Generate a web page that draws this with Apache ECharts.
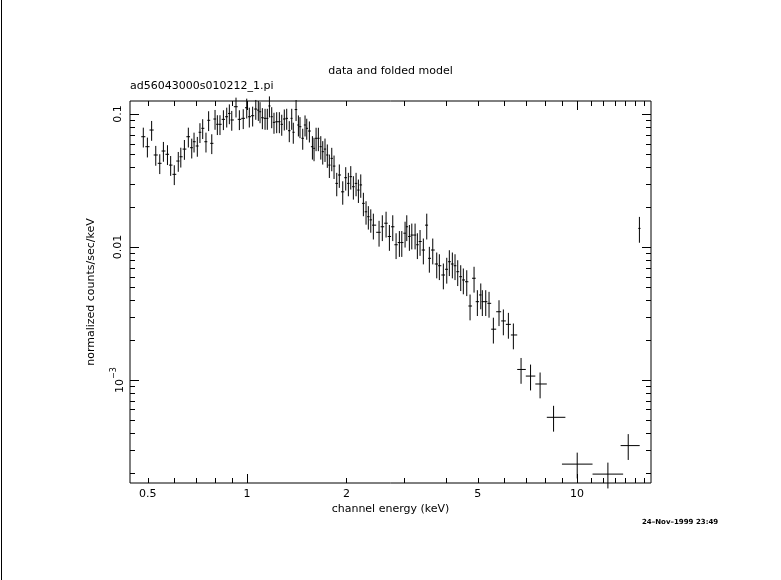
<!DOCTYPE html>
<html><head><meta charset="utf-8">
<script src="https://cdn.jsdelivr.net/npm/echarts@6/dist/echarts.min.js"></script>
<style>html,body{margin:0;padding:0;background:#fff}#c{width:781px;height:580px}</style>
</head><body><div id="c"></div>
<script>
// energies (keV)
var energy = [0.485,0.499,0.514,0.529,0.544,0.558,0.574,0.587,0.602,0.619,0.630,0.646,0.664,0.680,0.691,0.707,0.720,0.734,0.751,0.765,0.782,0.800,0.813,0.828,0.848,0.868,0.884,0.899,0.926,0.948,0.974,0.998,1.016,1.040,1.063,1.082,
1.095,1.113,1.134,1.152,1.169,1.188,1.207,1.230,1.253,1.274,1.297,1.319,1.343,1.366,1.381,1.408,1.431,1.447,1.475,1.499,1.517,1.545,1.578,1.596,1.619,1.645,1.673,1.696,1.723,1.751,1.776,1.806,1.835,1.870,1.904,1.950,1.991,2.028,2.062,2.100,2.140,2.175,2.211,2.252,2.294,2.331,2.371,
2.414,2.512,2.570,2.638,2.700,2.764,2.829,2.895,2.944,3.012,3.048,3.104,3.157,3.230,3.282,3.344,3.422,3.504,3.568,3.654,3.757,3.826,3.934,4.029,4.102,4.189,4.268,4.349,4.441,4.523,4.632,4.740,4.874,4.988,5.108,5.164,5.288,5.411,5.577,5.801,5.979,6.193,6.412,6.765,7.229,7.726,8.488,10.01,12.40,14.29,15.45];
// normalized counts/sec/keV
var counts = [0.0675,0.0568,0.0758,0.0492,0.0426,0.0527,0.0498,0.0413,0.0352,0.0443,0.0477,0.0545,0.0675,0.0558,0.0619,0.0575,0.0729,0.0781,0.0619,0.0897,0.0602,0.0917,0.0837,0.0837,0.0912,0.0954,0.101,0.0902,0.1135,0.0912,0.0928,0.1115,0.0954,0.0971,0.109,0.107,
0.104,0.0938,0.0928,0.0928,0.115,0.0954,0.0866,0.0875,0.0875,0.0837,0.0917,0.0928,0.0749,0.0928,0.0729,0.108,0.0827,0.0803,0.0657,0.0827,0.0781,0.0745,0.0568,0.0552,0.0657,0.0657,0.0568,0.0521,0.0545,0.0492,0.0413,0.0464,0.0406,0.0301,0.0348,0.0260,0.0332,0.0301,0.0338,0.0284,0.0301,0.0268,0.0293,0.0213,0.0184,0.0169,0.0160,
0.0146,0.0129,0.0142,0.0151,0.0120,0.0142,0.0104,0.0108,0.0108,0.0127,0.0142,0.0120,0.0123,0.0123,0.0104,0.0110,0.00949,0.0146,0.00822,0.00949,0.00745,0.00723,0.00616,0.00680,0.00775,0.00745,0.00723,0.00652,0.00598,0.00565,0.00548,0.00360,0.00582,0.00388,0.00436,0.00388,0.00388,0.00377,0.00241,0.00326,0.00278,0.00262,0.00218,0.00120,0.00107,0.000933,0.000524,0.000233,0.000196,0.000321,0.0138];
// relative y errors
var relErr = [0.17,0.17,0.17,0.17,0.17,0.17,0.17,0.17,0.17,0.17,0.17,0.17,0.17,0.17,0.17,0.17,0.17,0.17,0.17,0.17,0.17,0.17,0.17,0.17,0.17,0.17,0.17,0.17,0.17,0.17,0.17,0.17,0.17,0.17,0.17,0.17,
0.18,0.18,0.18,0.18,0.18,0.18,0.18,0.18,0.18,0.18,0.18,0.18,0.18,0.18,0.18,0.18,0.18,0.18,0.18,0.18,0.18,0.18,0.2,0.2,0.2,0.2,0.2,0.2,0.2,0.2,0.2,0.2,0.2,0.2,0.2,0.2,0.2,0.2,0.2,0.2,0.2,0.2,0.2,0.2,0.2,0.2,0.2,
0.22,0.22,0.22,0.22,0.22,0.22,0.22,0.22,0.22,0.22,0.22,0.22,0.22,0.22,0.22,0.22,0.22,0.22,0.22,0.22,0.22,0.22,0.22,0.22,0.22,0.22,0.22,0.22,0.22,0.22,0.22,0.22,0.22,0.22,0.22,0.22,0.22,0.22,0.22,0.22,0.22,0.22,0.22,0.22,0.22,0.22,0.22,0.22,0.22,0.22,0.22,0.22];
// explicit channel bounds for the wide high-energy bins: [index, low, high]
var binOverrides = [[130,9.00,11.14],[131,11.14,13.79],[132,13.55,15.48],[133,15.33,15.57]];
var xTicksMajor = [1,10];
var xTicksMinor = [0.5,0.6,0.7,0.8,0.9,2,3,4,5,6,7,8,9,11,12,13,14,15,16];
var xLabels = [0.5,1,2,5,10];
var yTicksMajor = [0.1,0.01,0.001];
var yTicksMinor = [0.0002,0.0003,0.0004,0.0005,0.0006,0.0007,0.0008,0.0009,0.002,0.003,0.004,0.005,0.006,0.007,0.008,0.009,0.02,0.03,0.04,0.05,0.06,0.07,0.08,0.09];
var yLabels = [[0.1,'0.1'],[0.01,'0.01'],[0.001,'10^-3']];

var lo=[],hi=[];
for(var i=0;i<energy.length;i++){
  var p = i>0?energy[i-1]:null, n = i<energy.length-1?energy[i+1]:null;
  var l = p?Math.sqrt(p*energy[i]):energy[i]*energy[i]/Math.sqrt(energy[i]*n);
  var h = n?Math.sqrt(n*energy[i]):energy[i]*energy[i]/Math.sqrt(energy[i]*p);
  lo.push(l);hi.push(h);
}
binOverrides.forEach(function(o){lo[o[0]]=o[1];hi[o[0]]=o[2];});
var pts = energy.map(function(e,i){return [e,counts[i],lo[i],hi[i],counts[i]*(1-relErr[i]),counts[i]*(1+relErr[i])];});
var ls = {stroke:'#000',lineWidth:1};
var FONT = 'DejaVu Sans';
var chart = echarts.init(document.getElementById('c'));
var ticks = [];
xTicksMajor.forEach(function(v){ticks.push(['x',v,9]);});
xTicksMinor.forEach(function(v){ticks.push(['x',v,5]);});
yTicksMajor.forEach(function(v){ticks.push(['y',v,9]);});
yTicksMinor.forEach(function(v){ticks.push(['y',v,5]);});
chart.setOption({
  animation:false,
  grid:{left:130,right:130,top:101,bottom:97,show:true,borderColor:'#000',borderWidth:1,backgroundColor:'transparent'},
  xAxis:{type:'log',min:0.442,max:16.75,axisLine:{show:false},axisTick:{show:false},axisLabel:{show:false},splitLine:{show:false}},
  yAxis:{type:'log',min:0.000168,max:0.1253,axisLine:{show:false},axisTick:{show:false},axisLabel:{show:false},splitLine:{show:false}},
  graphic:[
    {type:'text',left:'center',top:66,style:{text:'data and folded model',font:'11px '+FONT,fill:'#000'}},
    {type:'text',left:130,top:81,style:{text:'ad56043000s010212_1.pi',font:'11px '+FONT,fill:'#000'}},
    {type:'text',left:'center',top:504,style:{text:'channel energy (keV)',font:'11px '+FONT,fill:'#000'}},
    {type:'text',x:91,y:292,rotation:Math.PI/2,style:{text:'normalized counts/sec/keV',font:'11px '+FONT,fill:'#000',align:'center',verticalAlign:'middle'}},
    {type:'text',left:642,top:519,style:{text:'24\u2013Nov\u20131999 23:49',font:'bold 7px '+FONT,fill:'#000'}},
    {type:'line',shape:{x1:1.5,y1:0,x2:1.5,y2:580},style:{stroke:'#000',lineWidth:1}}
  ],
  series:[
    {type:'custom',data:pts,clip:false,
     renderItem:function(params,api){
       var c=api.coord([api.value(0),api.value(1)]);
       var a=api.coord([api.value(2),api.value(1)]),b=api.coord([api.value(3),api.value(1)]);
       var d=api.coord([api.value(0),api.value(4)]),u=api.coord([api.value(0),api.value(5)]);
       return {type:'group',children:[
         {type:'line',shape:{x1:a[0],y1:c[1],x2:b[0],y2:c[1]},style:ls},
         {type:'line',shape:{x1:c[0],y1:d[1],x2:c[0],y2:u[1]},style:ls}]};
     }},
    {type:'custom',data:ticks.map(function(t,i){return i;}),clip:false,silent:true,
     renderItem:function(params,api){
       var t=ticks[params.dataIndex],cs=params.coordSys,L=t[2];
       if(t[0]==='x'){var x=Math.round(api.coord([t[1],0.01])[0])+0.5;
         return {type:'group',children:[
          {type:'line',shape:{x1:x,y1:cs.y+cs.height,x2:x,y2:cs.y+cs.height-L},style:ls},
          {type:'line',shape:{x1:x,y1:cs.y,x2:x,y2:cs.y+L},style:ls}]};}
       var y=Math.round(api.coord([1,t[1]])[1])+0.5;
       return {type:'group',children:[
          {type:'line',shape:{x1:cs.x,y1:y,x2:cs.x+L,y2:y},style:ls},
          {type:'line',shape:{x1:cs.x+cs.width,y1:y,x2:cs.x+cs.width-L,y2:y},style:ls}]};
     }},
    {type:'custom',data:xLabels,clip:false,silent:true,
     renderItem:function(params,api){
       var v=xLabels[params.dataIndex],cs=params.coordSys,x=api.coord([v,0.01])[0];
       return {type:'text',x:x,y:cs.y+cs.height+11,style:{text:String(v),font:'11px '+FONT,fill:'#000',align:'center',verticalAlign:'middle'}};
     }},
    {type:'custom',data:yLabels.map(function(t){return t[0];}),clip:false,silent:true,
     renderItem:function(params,api){
       var t=yLabels[params.dataIndex],cs=params.coordSys,y=api.coord([1,t[0]])[1];
       var txt=t[1].indexOf('^')>0?'{b|10}{s|\u22123}':'{b|'+t[1]+'}';
       return {type:'text',x:cs.x-12,y:y,rotation:Math.PI/2,style:{text:txt,align:'center',verticalAlign:'middle',
         rich:{b:{font:'11px '+FONT,fill:'#000',verticalAlign:'bottom'},s:{font:'8px '+FONT,fill:'#000',verticalAlign:'top',padding:[0,0,8,0]}}}};
     }}
  ]
});
</script></body></html>
